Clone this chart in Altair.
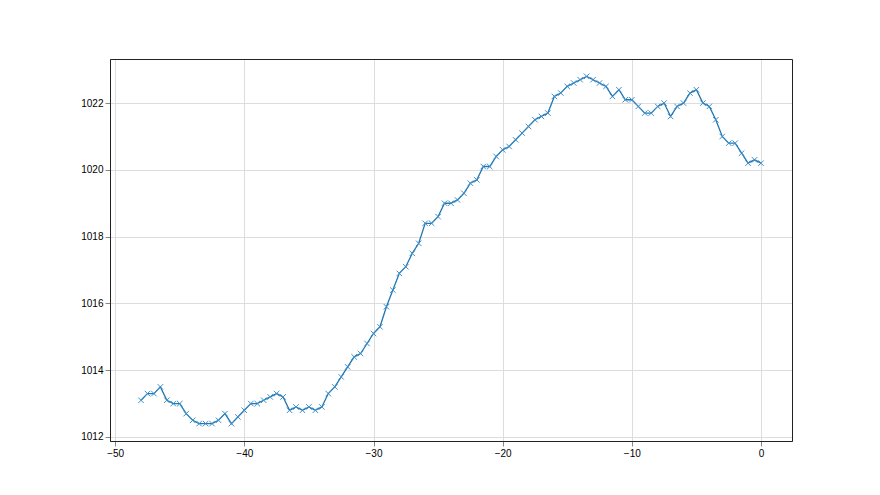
import altair as alt
import pandas as pd

# hours relative to now (half-hourly readings)
hours = [i * 0.5 - 48 for i in range(97)]

pressure = [
    1013.1, 1013.3, 1013.3, 1013.5, 1013.1, 1013.0, 1013.0, 1012.7, 1012.5, 1012.4,
    1012.4, 1012.4, 1012.5, 1012.7, 1012.4, 1012.6, 1012.8, 1013.0, 1013.0, 1013.1,
    1013.2, 1013.3, 1013.2, 1012.8, 1012.9, 1012.8, 1012.9, 1012.8, 1012.9, 1013.3,
    1013.5, 1013.8, 1014.1, 1014.4, 1014.5, 1014.8, 1015.1, 1015.3, 1015.9, 1016.4,
    1016.9, 1017.1, 1017.5, 1017.8, 1018.4, 1018.4, 1018.6, 1019.0, 1019.0, 1019.1,
    1019.3, 1019.6, 1019.7, 1020.1, 1020.1, 1020.4, 1020.6, 1020.7, 1020.9, 1021.1,
    1021.3, 1021.5, 1021.6, 1021.7, 1022.2, 1022.3, 1022.5, 1022.6, 1022.7, 1022.8,
    1022.7, 1022.6, 1022.5, 1022.2, 1022.4, 1022.1, 1022.1, 1021.9, 1021.7, 1021.7,
    1021.9, 1022.0, 1021.6, 1021.9, 1022.0, 1022.3, 1022.4, 1022.0, 1021.9, 1021.5,
    1021.0, 1020.8, 1020.8, 1020.5, 1020.2, 1020.3, 1020.2,
]

x_ticks = [-50, -40, -30, -20, -10, 0]
y_ticks = [1012, 1014, 1016, 1018, 1020, 1022]

W, H = 682, 382

df = pd.DataFrame({"hour": hours, "pressure": pressure})

minus = "replace(datum.label, '-', '\u2212')"

x_enc = alt.X(
    "hour:Q",
    scale=alt.Scale(domain=[-50.4, 2.4], nice=False, zero=False),
    axis=alt.Axis(values=x_ticks, title=None, labelExpr=minus),
)
y_enc = alt.Y(
    "pressure:Q",
    scale=alt.Scale(domain=[1011.88, 1023.32], nice=False, zero=False),
    axis=alt.Axis(values=y_ticks, title=None, format="d"),
)

base = alt.Chart(df).encode(x=x_enc, y=y_enc)

line = base.mark_line(color="#1f77b4", strokeWidth=1.3)
pts = base.mark_point(
    shape="M-1,-1L1,1M-1,1L1,-1",
    size=30,
    filled=False,
    color="#3f8fc8",
    strokeWidth=1,
    opacity=1,
)

frame = alt.Chart(pd.DataFrame({"k": [0]})).mark_rect(
    filled=False, stroke="#222222", strokeWidth=1, fill=None
).encode(
    x=alt.value(0.5), x2=alt.value(W + 0.5), y=alt.value(0.5), y2=alt.value(H + 0.5)
)

chart = (
    alt.layer(line, pts, frame)
    .properties(
        width=W,
        height=H,
        autosize=alt.AutoSizeParams(type="none"),
        padding={"left": 102, "top": 51, "right": 80, "bottom": 46},
    )
    .configure_view(strokeWidth=0)
    .configure_axis(
        grid=True,
        gridColor="#b0b0b0",
        gridWidth=0.8,
        domain=True,
        domainColor="#222222",
        domainWidth=1,
        tickColor="#000000",
        tickSize=3.5,
        tickWidth=0.8,
        labelColor="#000000",
        labelFont="DejaVu Sans",
        labelFontSize=10,
        labelPadding=3.5,
    )
    .configure(background="white")
)

chart.save("out.html", embed_options={"renderer": "svg", "actions": False})
